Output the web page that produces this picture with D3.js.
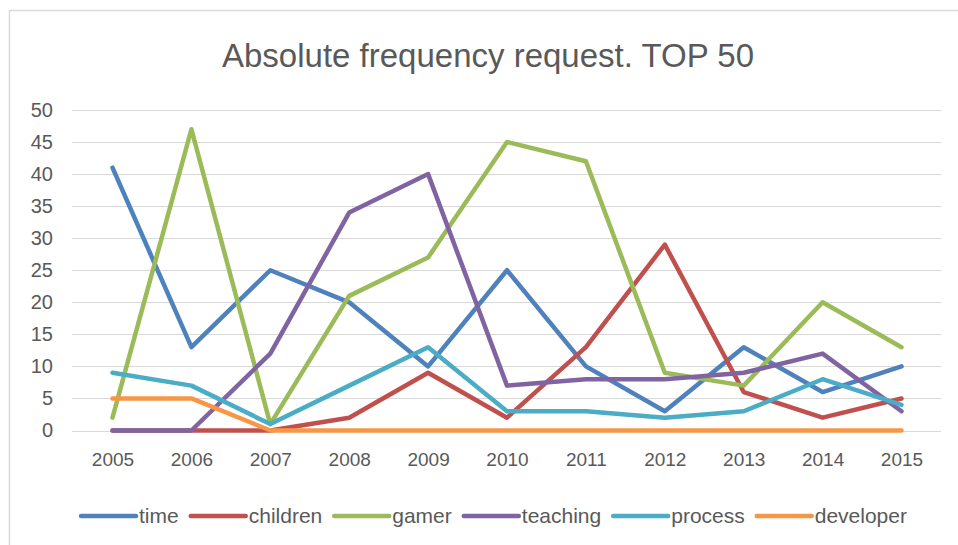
<!DOCTYPE html>
<html>
<head>
<meta charset="utf-8">
<script src="https://cdn.jsdelivr.net/npm/d3@7"></script>
<style>
  body { margin: 0; background: #fff; }
  text { font-family: "Liberation Sans", Arial, sans-serif; fill: #595959; }
</style>
</head>
<body>
<div id="chart"></div>
<script>
var years = [2005, 2006, 2007, 2008, 2009, 2010, 2011, 2012, 2013, 2014, 2015];
var yTicks = [0, 5, 10, 15, 20, 25, 30, 35, 40, 45, 50];

var seriesNames = ["time", "children", "gamer", "teaching", "process", "developer"];
var seriesColors = ["#4F81BD", "#C0504D", "#9BBB59", "#8064A2", "#4BACC6", "#F79646"];

var time      = [41, 13, 25, 20, 10, 25, 10, 3, 13, 6, 10];
var children  = [0, 0, 0, 2, 9, 2, 13, 29, 6, 2, 5];
var gamer     = [2, 47, 1, 21, 27, 45, 42, 9, 7, 20, 13];
var teaching  = [0, 0, 12, 34, 40, 7, 8, 8, 9, 12, 3];
var process   = [9, 7, 1, 7, 13, 3, 3, 2, 3, 8, 4];
var developer = [5, 5, 0, 0, 0, 0, 0, 0, 0, 0, 0];

var seriesValues = [time, children, gamer, teaching, process, developer];

drawChart();

function drawChart() {
    var width = 958;
    var height = 545;

    var svg = d3.select("#chart")
      .append("svg")
      .attr("width", width)
      .attr("height", height);

    // chart border (only top and left edge are in frame)
    svg.append("rect")
      .attr("x", 9.5).attr("y", 10.5)
      .attr("width", 960).attr("height", 560)
      .attr("fill", "none")
      .attr("stroke", "#d9d9d9")
      .attr("stroke-width", 1.5);

    var x = d3.scalePoint()
      .domain(years)
      .range([112.5, 901.5]);

    var y = d3.scaleLinear()
      .domain([0, 50])
      .range([430.5, 110]);

    // gridlines
    svg.append("g")
      .selectAll("line")
      .data(yTicks)
      .enter()
      .append("line")
      .attr("x1", 72)
      .attr("x2", 941)
      .attr("y1", d => Math.round(y(d)) + 0.5)
      .attr("y2", d => Math.round(y(d)) + 0.5)
      .attr("stroke", "#d9d9d9")
      .attr("stroke-width", 1);

    // y labels
    var yAxis = d3.axisLeft(y).tickValues(yTicks).tickSize(0).tickPadding(0);
    var gy = svg.append("g")
      .attr("transform", "translate(53,0)")
      .call(yAxis);
    gy.select(".domain").remove();
    gy.selectAll("text")
      .attr("font-size", "20px")
      .attr("font-family", "Liberation Sans, Arial, sans-serif")
      .style("fill", "#595959");

    // x labels
    var xAxis = d3.axisBottom(x).tickSize(0).tickPadding(0);
    var gx = svg.append("g")
      .attr("transform", "translate(0,452)")
      .call(xAxis);
    gx.select(".domain").remove();
    gx.selectAll("text")
      .attr("font-size", "19px")
      .attr("font-family", "Liberation Sans, Arial, sans-serif")
      .style("fill", "#595959");

    var line = d3.line()
      .x((d, i) => x(years[i]))
      .y(d => y(d));

    svg.append("g")
      .selectAll("path")
      .data(seriesValues)
      .enter()
      .append("path")
      .attr("d", d => line(d))
      .attr("fill", "none")
      .attr("stroke", (d, i) => seriesColors[i])
      .attr("stroke-width", 4.5)
      .attr("stroke-linejoin", "round")
      .attr("stroke-linecap", "round");

    // title
    svg.append("text")
      .attr("x", 488)
      .attr("y", 67)
      .attr("text-anchor", "middle")
      .attr("font-size", "33px")
      .text("Absolute frequency request. TOP 50");

    // legend
    var legend = svg.append("g");
    var swatch = 55;
    var pos = 0;
    seriesNames.forEach(function(name, i) {
        var g = legend.append("g");
        g.append("line")
          .attr("x1", 0).attr("x2", swatch)
          .attr("y1", 0).attr("y2", 0)
          .attr("stroke", seriesColors[i])
          .attr("stroke-width", 4.5)
          .attr("stroke-linecap", "round");
        var t = g.append("text")
          .attr("x", swatch + 3)
          .attr("y", 7)
          .attr("font-size", "21px")
          .text(name);
        g.attr("transform", "translate(" + pos + ",0)");
        pos += swatch + 3 + t.node().getComputedTextLength() + 12;
    });
    pos -= 12;
    legend.attr("transform", "translate(" + (494 - pos / 2) + ",516)");
}
</script>
</body>
</html>
